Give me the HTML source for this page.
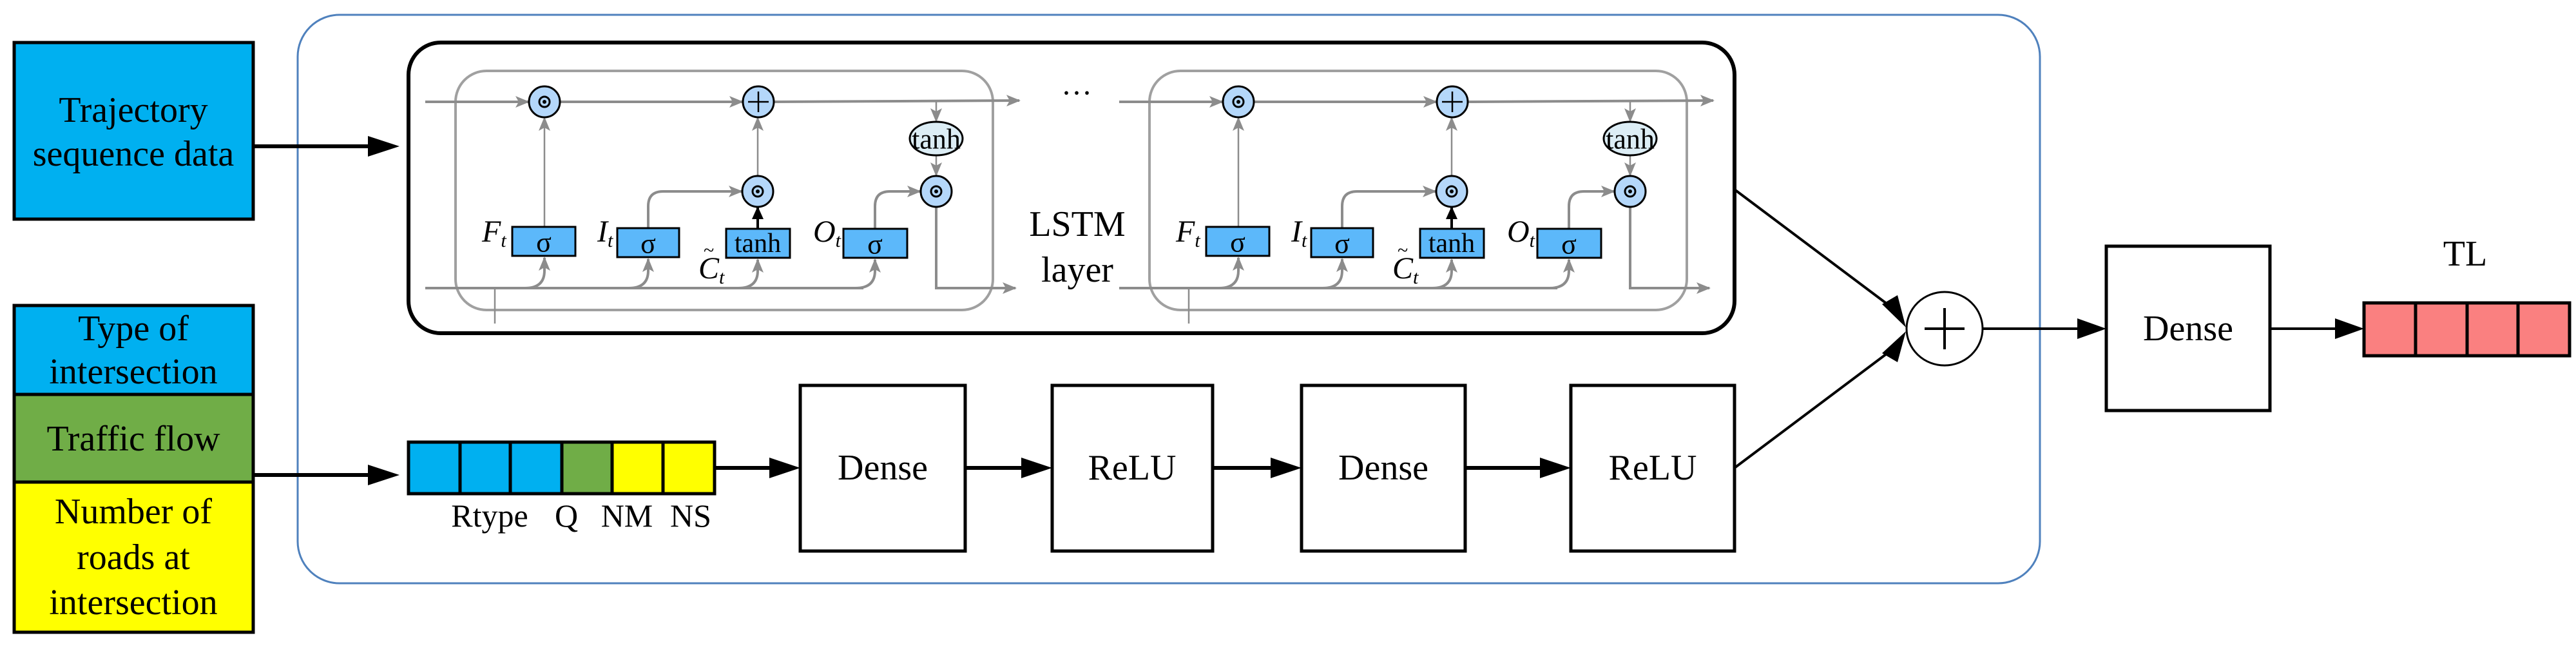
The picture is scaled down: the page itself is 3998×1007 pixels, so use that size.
<!DOCTYPE html>
<html><head><meta charset="utf-8"><style>
html,body{margin:0;padding:0;background:#fff;}
svg{display:block;}
svg text, text{font-family:"Liberation Serif","DejaVu Serif",serif !important;fill:#000;}
</style></head><body>
<svg width="3998" height="1007" viewBox="0 0 3998 1007" xmlns="http://www.w3.org/2000/svg" font-family="Liberation Serif, DejaVu Serif, serif">
<defs>
<marker id="ga" markerUnits="userSpaceOnUse" markerWidth="22" markerHeight="18" refX="20" refY="9" orient="auto"><path d="M0,0 L22,9 L0,18 L5,9 Z" fill="#8c8c8c"/></marker>
<marker id="ba" markerUnits="userSpaceOnUse" markerWidth="20" markerHeight="18" refX="18" refY="9" orient="auto"><path d="M0,0 L20,9 L0,18 Z" fill="#000"/></marker>
<g id="cell" font-family="Liberation Serif, DejaVu Serif, serif">
  <rect x="707" y="110" width="834" height="371" rx="48" fill="none" stroke="#a0a0a0" stroke-width="4"/>
  <g stroke="#8c8c8c" stroke-width="4" fill="none">
    <line x1="660" y1="158" x2="820" y2="158" marker-end="url(#ga)"/>
    <line x1="869" y1="158" x2="1152" y2="158" marker-end="url(#ga)"/>
    <line x1="1201" y1="158" x2="1582" y2="156" marker-end="url(#ga)"/>
    <line x1="1453" y1="157" x2="1453" y2="188" stroke-width="2.5" marker-end="url(#ga)"/>
    <line x1="1453" y1="241" x2="1453" y2="272" stroke-width="2.5" marker-end="url(#ga)"/>
    <path d="M1453,321 L1453,447 L1576,447" marker-end="url(#ga)"/>
    <line x1="660" y1="447" x2="1340" y2="447"/>
    <line x1="768" y1="447" x2="768" y2="502" stroke-width="2.5"/>
    <path d="M815,447 Q845,447 845,420 L845,400" marker-end="url(#ga)"/>
    <path d="M976,447 Q1006,447 1006,420 L1006,402" marker-end="url(#ga)"/>
    <path d="M1146,447 Q1176,447 1176,420 L1176,403" marker-end="url(#ga)"/>
    <path d="M1328,447 Q1358,447 1358,420 L1358,403" marker-end="url(#ga)"/>
    <line x1="845" y1="352" x2="845" y2="183" stroke-width="2.5" marker-end="url(#ga)"/>
    <path d="M1006,354 L1006,320 Q1006,297 1029,297 L1151,297" marker-end="url(#ga)"/>
    <line x1="1176" y1="274" x2="1176" y2="183" stroke-width="2.5" marker-end="url(#ga)"/>
    <path d="M1358,355 L1358,320 Q1358,297 1381,297 L1428,297" marker-end="url(#ga)"/>
  </g>
  <line x1="1176" y1="355" x2="1176" y2="322" stroke="#000" stroke-width="4" marker-end="url(#ba)"/>
  <g stroke="#000" stroke-width="3">
    <ellipse cx="845" cy="158" rx="24" ry="24" fill="#b4d7fa"/>
    <ellipse cx="1177" cy="158" rx="24" ry="24" fill="#b4d7fa"/>
    <ellipse cx="1176" cy="297" rx="24" ry="24" fill="#b4d7fa"/>
    <ellipse cx="1453" cy="297" rx="24" ry="24" fill="#b4d7fa"/>
    <ellipse cx="1453" cy="215" rx="41" ry="26" fill="#dcedf5"/>
    <rect x="795" y="352" width="98" height="45" fill="#5cb8fa"/>
    <rect x="958" y="354" width="96" height="45" fill="#5cb8fa"/>
    <rect x="1127" y="355" width="99" height="45" fill="#5cb8fa"/>
    <rect x="1309" y="355" width="99" height="45" fill="#5cb8fa"/>
  </g>
  <g fill="#000"><circle cx="845" cy="158" r="8" fill="none" stroke="#000" stroke-width="3"/><circle cx="845" cy="158" r="3"/>
  <circle cx="1176" cy="297" r="8" fill="none" stroke="#000" stroke-width="3"/><circle cx="1176" cy="297" r="3"/>
  <circle cx="1453" cy="297" r="8" fill="none" stroke="#000" stroke-width="3"/><circle cx="1453" cy="297" r="3"/></g>
  <path d="M1177,142 V174 M1161,158 H1193" stroke="#000" stroke-width="2.5"/>
  <text x="1453" y="216" font-size="44" text-anchor="middle" dominant-baseline="central">tanh</text>
  <text x="844" y="376" font-size="44" text-anchor="middle" dominant-baseline="central">σ</text>
  <text x="1006" y="378" font-size="44" text-anchor="middle" dominant-baseline="central">σ</text>
  <text x="1176" y="378" font-size="42" text-anchor="middle" dominant-baseline="central">tanh</text>
  <text x="1358" y="379" font-size="44" text-anchor="middle" dominant-baseline="central">σ</text>
  <text x="748" y="375" font-size="48" font-style="italic">F<tspan font-size="30" dy="8">t</tspan></text>
  <text x="927" y="375" font-size="48" font-style="italic">I<tspan font-size="30" dy="8">t</tspan></text>
  <text x="1262" y="375" font-size="48" font-style="italic">O<tspan font-size="30" dy="8">t</tspan></text>
  <text x="1084" y="432" font-size="48" font-style="italic">C<tspan font-size="30" dy="8">t</tspan></text>
  <text x="1092" y="398" font-size="30">~</text>
</g>
</defs>

<rect x="462" y="23" width="2704" height="882" rx="65" fill="none" stroke="#4f81bd" stroke-width="3"/>

<rect x="22" y="66" width="371" height="274" fill="#00b0f0" stroke="#000" stroke-width="5"/>
<text x="207" y="171" font-size="56" text-anchor="middle" dominant-baseline="central">Trajectory</text>
<text x="207" y="239" font-size="56" text-anchor="middle" dominant-baseline="central">sequence data</text>

<rect x="22" y="474" width="371" height="138" fill="#00b0f0" stroke="#000" stroke-width="5"/>
<rect x="22" y="612" width="371" height="136" fill="#70ad47" stroke="#000" stroke-width="5"/>
<rect x="22" y="748" width="371" height="233" fill="#ffff00" stroke="#000" stroke-width="5"/>
<text x="207" y="510" font-size="56" text-anchor="middle" dominant-baseline="central">Type of</text>
<text x="207" y="577" font-size="56" text-anchor="middle" dominant-baseline="central">intersection</text>
<text x="207" y="681" font-size="56" text-anchor="middle" dominant-baseline="central">Traffic flow</text>
<text x="207" y="794" font-size="56" text-anchor="middle" dominant-baseline="central">Number of</text>
<text x="207" y="865" font-size="56" text-anchor="middle" dominant-baseline="central">roads at</text>
<text x="207" y="935" font-size="56" text-anchor="middle" dominant-baseline="central">intersection</text>

<line x1="393" y1="227" x2="575" y2="227" stroke="#000" stroke-width="6"/>
<polygon points="571,211 620,227 571,243" fill="#000"/>
<line x1="393" y1="737" x2="575" y2="737" stroke="#000" stroke-width="6"/>
<polygon points="571,721 620,737 571,753" fill="#000"/>

<rect x="634" y="66" width="2058" height="451" rx="50" fill="none" stroke="#000" stroke-width="6"/>
<use href="#cell"/>
<use href="#cell" transform="translate(1077,0)"/>
<text x="1671" y="160" font-size="48" text-anchor="middle">···</text>
<text x="1672" y="348" font-size="56" text-anchor="middle" dominant-baseline="central">LSTM</text>
<text x="1672" y="419" font-size="56" text-anchor="middle" dominant-baseline="central">layer</text>

<g stroke="#000" stroke-width="5">
<rect x="634" y="686" width="80" height="80" fill="#00b0f0"/>
<rect x="714" y="686" width="78" height="80" fill="#00b0f0"/>
<rect x="792" y="686" width="80" height="80" fill="#00b0f0"/>
<rect x="872" y="686" width="78" height="80" fill="#70ad47"/>
<rect x="950" y="686" width="79" height="80" fill="#ffff00"/>
<rect x="1029" y="686" width="80" height="80" fill="#ffff00"/>
</g>
<text x="760" y="800" font-size="50" text-anchor="middle" dominant-baseline="central">Rtype</text>
<text x="879" y="800" font-size="50" text-anchor="middle" dominant-baseline="central">Q</text>
<text x="973" y="800" font-size="50" text-anchor="middle" dominant-baseline="central">NM</text>
<text x="1072" y="800" font-size="50" text-anchor="middle" dominant-baseline="central">NS</text>

<g stroke="#000" stroke-width="5" fill="#fff">
<rect x="1242" y="598" width="256" height="257"/>
<rect x="1633" y="598" width="249" height="257"/>
<rect x="2020" y="598" width="254" height="257"/>
<rect x="2438" y="598" width="254" height="257"/>
<rect x="3269" y="382" width="254" height="255"/>
</g>
<text x="1370" y="726" font-size="56" text-anchor="middle" dominant-baseline="central">Dense</text>
<text x="1757" y="726" font-size="56" text-anchor="middle" dominant-baseline="central">ReLU</text>
<text x="2147" y="726" font-size="56" text-anchor="middle" dominant-baseline="central">Dense</text>
<text x="2565" y="726" font-size="56" text-anchor="middle" dominant-baseline="central">ReLU</text>
<text x="3396" y="510" font-size="56" text-anchor="middle" dominant-baseline="central">Dense</text>

<g stroke="#000" stroke-width="6">
<line x1="1109" y1="726" x2="1200" y2="726"/>
<line x1="1498" y1="726" x2="1590" y2="726"/>
<line x1="1882" y1="726" x2="1978" y2="726"/>
<line x1="2274" y1="726" x2="2396" y2="726"/>
</g>
<polygon points="1194,710 1242,726 1194,742" fill="#000"/>
<polygon points="1585,710 1633,726 1585,742" fill="#000"/>
<polygon points="1972,710 2020,726 1972,742" fill="#000"/>
<polygon points="2390,710 2438,726 2390,742" fill="#000"/>

<line x1="2692" y1="294" x2="2940" y2="480" stroke="#000" stroke-width="4"/>
<polygon points="2921,472 2958,508 2945,458" fill="#000"/>
<line x1="2692" y1="726" x2="2940" y2="540" stroke="#000" stroke-width="4"/>
<polygon points="2921,548 2958,514 2945,562" fill="#000"/>
<ellipse cx="3018" cy="510" rx="59" ry="57" fill="#fff" stroke="#000" stroke-width="3"/>
<path d="M3018,478 V542 M2987,510 H3049" stroke="#000" stroke-width="4"/>
<line x1="3077" y1="510" x2="3230" y2="510" stroke="#000" stroke-width="4"/>
<polygon points="3224,494 3269,510 3224,526" fill="#000"/>
<line x1="3523" y1="510" x2="3630" y2="510" stroke="#000" stroke-width="4"/>
<polygon points="3624,494 3669,510 3624,526" fill="#000"/>

<g stroke="#000" stroke-width="5" fill="#fa8080">
<rect x="3669" y="470" width="80" height="82"/>
<rect x="3749" y="470" width="80" height="82"/>
<rect x="3829" y="470" width="79" height="82"/>
<rect x="3908" y="470" width="80" height="82"/>
</g>
<text x="3826" y="394" font-size="56" text-anchor="middle" dominant-baseline="central">TL</text>
</svg>
</body></html>
